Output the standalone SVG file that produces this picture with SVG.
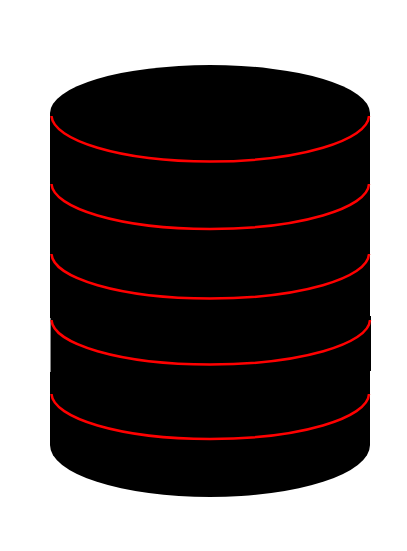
<svg xmlns="http://www.w3.org/2000/svg" width="407" height="551" viewBox="0 0 407 551">
<style>
.body{fill:#000;stroke:none}
.ring{fill:none;stroke:#f00;stroke-width:2.5}
</style>
<g id="cylinder">
<path class="body" d="M50 113A160 48 0 0 1 370 113V445A160 52 0 0 1 50 445Z"/>
<rect class="body" x="51" y="316" width="320" height="55"/>
<rect x="50" y="318" width="1" height="54" fill="#888"/>
</g>
<g id="connectors">
<path class="ring" d="M51.500 116C53 140 120 161.500 210 161.500C300 161.500 368 140 369 116"/>
<path class="ring" d="M51.500 184C53 208 120 229 210 229C300 229 368 208 369 184"/>
<path class="ring" d="M51.500 254C53 278 120 298.500 210 298.500C300 298.500 368 278 369 254"/>
<path class="ring" d="M51.500 320C53 344 120 364.500 210 364.500C300 364.500 369 344 370 320"/>
<path class="ring" d="M51.500 394C53 418 120 439 210 439C300 439 368 418 369 394"/>
</g>
</svg>
